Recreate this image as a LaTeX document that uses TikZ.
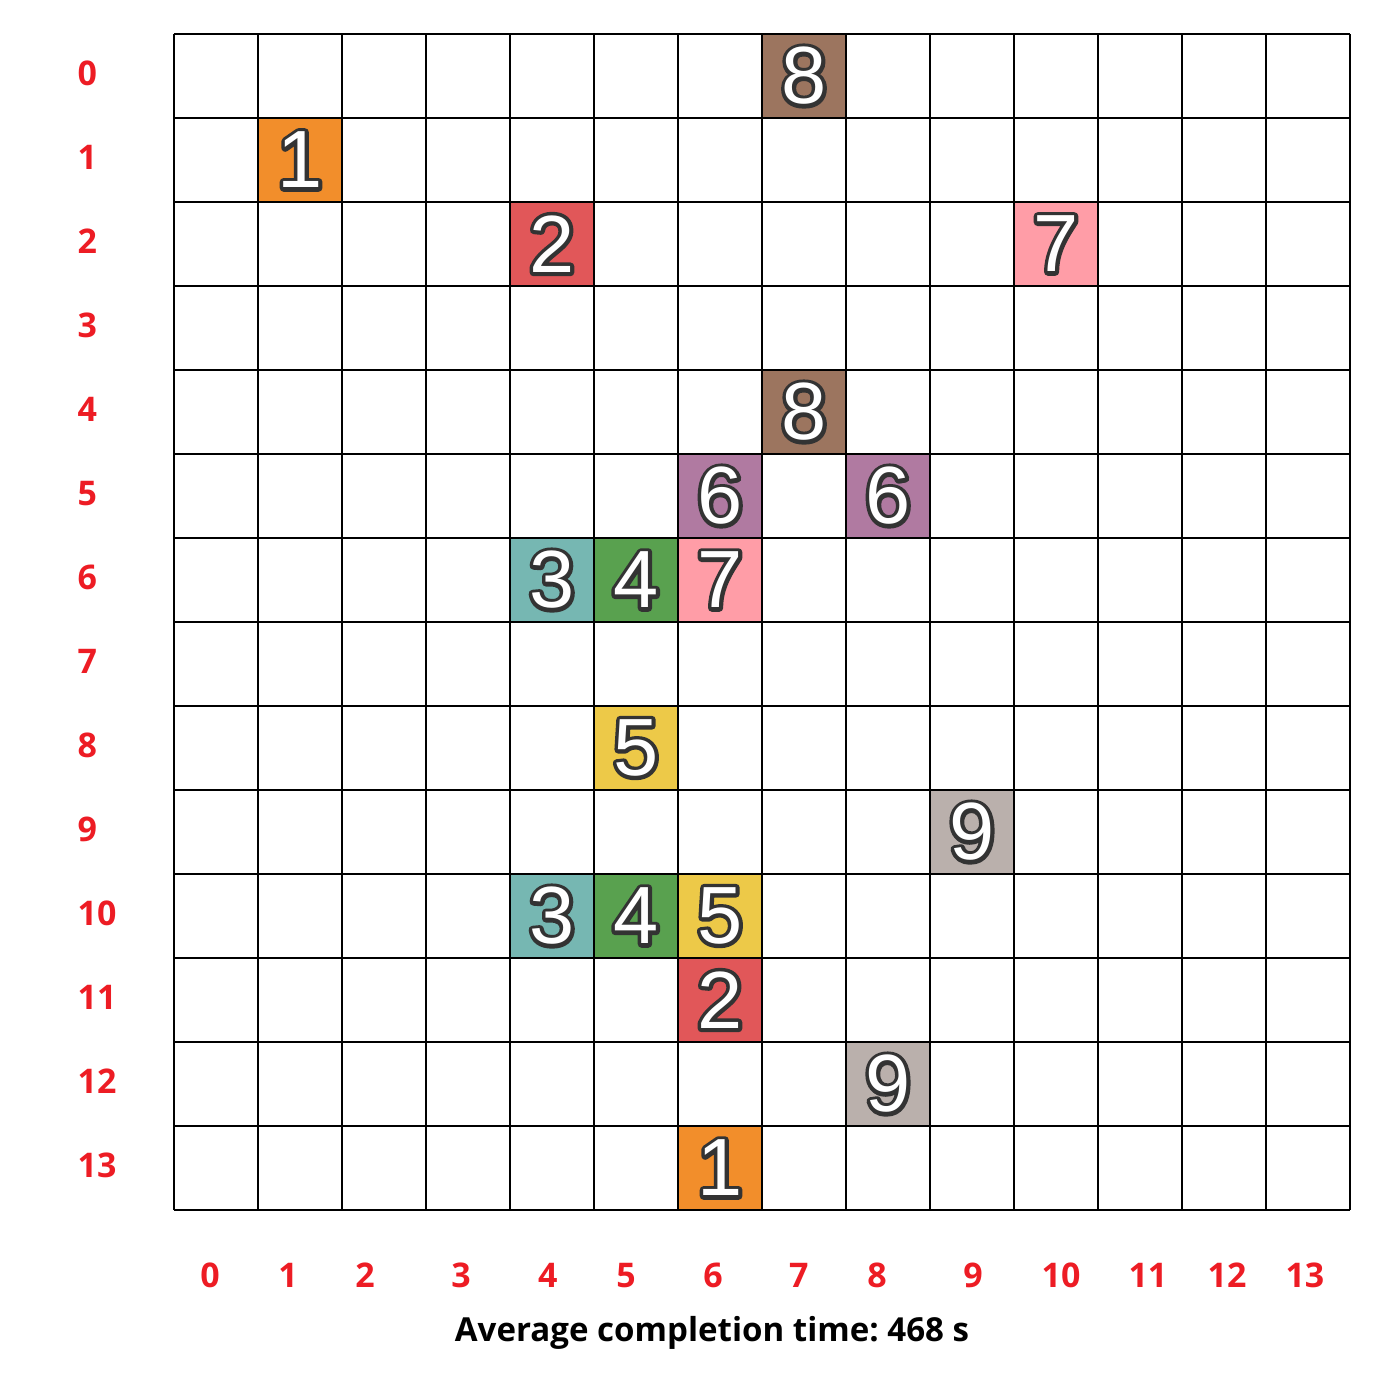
\documentclass[tikz,border=0pt]{standalone}
\usepackage{fontspec}
\usetikzlibrary{positioning}
\newfontfamily\labelfont{Open Sans}
\newfontfamily\digitfont{Liberation Sans}
\frenchspacing

\definecolor{axisred}{RGB}{237,28,36}
\definecolor{c1}{HTML}{F28E2B}
\definecolor{c2}{HTML}{E15759}
\definecolor{c3}{HTML}{76B7B2}
\definecolor{c4}{HTML}{59A14F}
\definecolor{c5}{HTML}{EDC948}
\definecolor{c6}{HTML}{B07AA1}
\definecolor{c7}{HTML}{FF9DA7}
\definecolor{c8}{HTML}{9C755F}
\definecolor{c9}{HTML}{BAB0AC}

% white digit with a dark outline: stroked copy underneath, filled copy on top
\newcommand{\outlined}[1]{%
  \rlap{\special{pdf:literal direct 1 Tr 2.6 w 1 j 0.2 0.2 0.2 RG}#1\special{pdf:literal direct 0 Tr}}#1}

\begin{document}
\begin{tikzpicture}[x=1cm, y=-1cm,
    gridline/.style={line width=0.7pt, black},
    rowlabel/.style={anchor=west, text=axisred, font=\labelfont\bfseries\fontsize{11.5}{12}\selectfont},
    collabel/.style={text=axisred, font=\labelfont\bfseries\fontsize{11.5}{12}\selectfont},
    celldigit/.style={text=white, font=\digitfont\fontsize{27.5}{28}\selectfont}]
    \useasboundingbox (-2.071,-0.405) rectangle (14.536,16.071);

    % coloured cells: col/row/digit
    \foreach \c/\r/\d in {7/0/8, 1/1/1, 4/2/2, 10/2/7, 7/4/8, 6/5/6, 8/5/6,
                          4/6/3, 5/6/4, 6/6/7, 5/8/5, 9/9/9, 4/10/3, 5/10/4,
                          6/10/5, 6/11/2, 8/12/9, 6/13/1} {
        \fill[c\d] (\c,\r) rectangle ++(1,1);
        \node[celldigit] (cell-\c-\r) at (\c+0.5,\r+0.5) {\outlined{\d}};
    }

    % grid
    \draw[gridline] (0,0) grid (14,14);

    % row labels
    \foreach \r in {0,...,13}
        \node[rowlabel] (row-\r) at (-1.27,\r+0.47) {\r};

    % column labels (uneven spacing, as drawn)
    \foreach \c/\x in {0/0.429, 1/1.357, 2/2.274, 3/3.417, 4/4.452, 5/5.381,
                       6/6.417, 7/7.440, 8/8.369, 9/9.512, 10/10.560,
                       11/11.595, 12/12.536, 13/13.464}
        \node[collabel] (col-\c) at (\x,14.774) {\c};

    % caption
    \node[font=\labelfont\bfseries\fontsize{11.2}{12}\selectfont] (caption)
        at (6.405,15.464) {Average completion time: 468 s};
\end{tikzpicture}
\end{document}
